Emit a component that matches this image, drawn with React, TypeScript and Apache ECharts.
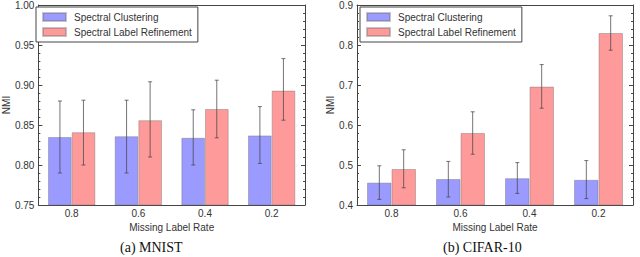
import React, { useEffect, useRef } from "react";
import * as echarts from "echarts";

const CATEGORIES = ["0.8", "0.6", "0.4", "0.2"];
const SERIES_NAMES = ["Spectral Clustering", "Spectral Label Refinement"];

const MNIST_SC = [0.835, 0.836, 0.834, 0.837];
const MNIST_SC_LO = [0.79, 0.79, 0.8, 0.802];
const MNIST_SC_HI = [0.88, 0.881, 0.869, 0.873];
const MNIST_SLR = [0.841, 0.856, 0.87, 0.893];
const MNIST_SLR_LO = [0.8, 0.81, 0.834, 0.856];
const MNIST_SLR_HI = [0.881, 0.904, 0.906, 0.933];

const CIFAR_SC = [0.456, 0.465, 0.467, 0.463];
const CIFAR_SC_LO = [0.414, 0.42, 0.429, 0.416];
const CIFAR_SC_HI = [0.498, 0.509, 0.506, 0.511];
const CIFAR_SLR = [0.49, 0.58, 0.696, 0.83];
const CIFAR_SLR_LO = [0.443, 0.527, 0.642, 0.787];
const CIFAR_SLR_HI = [0.538, 0.633, 0.751, 0.873];

const CAPTIONS = ["(a) MNIST", "(b) CIFAR-10"];

const BLUE = "#9a9aff";
const RED = "#ff9a9a";
const AXIS = "#444";
const FONT = "Liberation Sans";

function errData(lo: number[], hi: number[]) {
  return lo.map((l, i) => [i, l, hi[i]]);
}

function errSeries(lo: number[], hi: number[], idx: number, sign: number) {
  return {
    type: "custom",
    xAxisIndex: idx * 2,
    yAxisIndex: idx * 2,
    z: 5,
    silent: true,
    encode: { x: 0, y: [1, 2] },
    data: errData(lo, hi),
    renderItem: (params: any, api: any) => {
      const cat = api.value(0);
      const p1 = api.coord([cat, api.value(1)]);
      const p2 = api.coord([cat, api.value(2)]);
      const band = api.size([1, 0])[0];
      const x = p1[0] + sign * band * 0.1765;
      const cap = 2;
      const style = { stroke: "rgba(70,70,70,0.75)", lineWidth: 1 };
      return {
        type: "group",
        children: [
          { type: "line", shape: { x1: x, y1: p1[1], x2: x, y2: p2[1] }, style },
          { type: "line", shape: { x1: x - cap, y1: p1[1], x2: x + cap, y2: p1[1] }, style },
          { type: "line", shape: { x1: x - cap, y1: p2[1], x2: x + cap, y2: p2[1] }, style },
        ],
      };
    },
  };
}

function barSeries(name: string, data: number[], idx: number, color: string) {
  return {
    name,
    type: "bar",
    xAxisIndex: idx * 2,
    yAxisIndex: idx * 2,
    data,
    barGap: "0%",
    barCategoryGap: "29%",
    itemStyle: { color, borderColor: "rgba(110,110,110,0.4)", borderWidth: 1 },
  };
}

export default function App() {
  const ref = useRef<HTMLDivElement>(null);
  useEffect(() => {
    if (!ref.current) return;
    const chart = echarts.init(ref.current, undefined, { renderer: "svg" });

    const grids = [
      { left: 33, top: 3, width: 272, height: 202 },
      { left: 357, top: 3, width: 276, height: 202 },
    ];
    const yRanges = [
      { min: 0.75, max: 1.0, interval: 0.05, fmt: (v: number) => v.toFixed(2), nameGap: 26 },
      { min: 0.4, max: 0.9, interval: 0.1, fmt: (v: number) => v.toFixed(1), nameGap: 22 },
    ];

    const xAxis: any[] = [];
    const yAxis: any[] = [];
    [0, 1].forEach((g) => {
      xAxis.push({
        type: "category",
        gridIndex: g,
        data: CATEGORIES,
        position: "bottom",
        name: "Missing Label Rate",
        nameLocation: "middle",
        nameGap: 15,
        nameTextStyle: { fontFamily: FONT, fontSize: 10, color: "#333" },
        axisLine: { lineStyle: { color: AXIS } },
        axisTick: { inside: true, alignWithLabel: true, length: 4, lineStyle: { color: AXIS } },
        axisLabel: { fontFamily: FONT, fontSize: 10, color: "#333", margin: 3 },
        splitLine: { show: false },
      });
      xAxis.push({
        type: "category",
        gridIndex: g,
        data: CATEGORIES,
        position: "top",
        axisLine: { lineStyle: { color: AXIS } },
        axisTick: { inside: true, alignWithLabel: true, length: 4, lineStyle: { color: AXIS } },
        axisLabel: { show: false },
        splitLine: { show: false },
      });
      const r = yRanges[g];
      yAxis.push({
        type: "value",
        gridIndex: g,
        min: r.min,
        max: r.max,
        interval: r.interval,
        position: "left",
        name: "NMI",
        nameLocation: "middle",
        nameGap: r.nameGap,
        nameTextStyle: { fontFamily: FONT, fontSize: 10, color: "#333" },
        axisLine: { show: true, lineStyle: { color: AXIS } },
        axisTick: { show: true, inside: true, length: 4, lineStyle: { color: AXIS } },
        minorTick: { show: true, splitNumber: 5, length: 2, lineStyle: { color: AXIS } },
        axisLabel: { fontFamily: FONT, fontSize: 10, color: "#333", margin: 4, formatter: r.fmt },
        splitLine: { show: false },
      });
      yAxis.push({
        type: "value",
        gridIndex: g,
        min: r.min,
        max: r.max,
        interval: r.interval,
        position: "right",
        axisLine: { show: true, lineStyle: { color: AXIS } },
        axisTick: { show: true, inside: true, length: 4, lineStyle: { color: AXIS } },
        minorTick: { show: true, splitNumber: 5, length: 2, lineStyle: { color: AXIS } },
        axisLabel: { show: false },
        splitLine: { show: false },
      });
    });

    const legendBase = {
      orient: "vertical",
      top: 7,
      icon: "rect",
      itemWidth: 23,
      itemHeight: 8,
      itemGap: 3,
      padding: [4, 6, 4, 6],
      borderColor: "#444",
      borderWidth: 1,
      backgroundColor: "#fff",
      data: SERIES_NAMES,
      selectedMode: false,
      textStyle: { fontFamily: FONT, fontSize: 10, color: "#333", lineHeight: 12, padding: [0, 0, 0, 3] },
    };

    chart.setOption({
      animation: false,
      grid: grids,
      xAxis,
      yAxis,
      legend: [
        { ...legendBase, left: 36 },
        { ...legendBase, left: 360 },
      ],
      graphic: [
        { type: "text", left: 152 - 32, top: 240, style: { text: CAPTIONS[0], font: '14px "Liberation Serif"', fill: "#111" } },
        { type: "text", left: 483 - 40, top: 240, style: { text: CAPTIONS[1], font: '14px "Liberation Serif"', fill: "#111" } },
      ],
      series: [
        barSeries(SERIES_NAMES[0], MNIST_SC, 0, BLUE),
        barSeries(SERIES_NAMES[1], MNIST_SLR, 0, RED),
        barSeries(SERIES_NAMES[0], CIFAR_SC, 1, BLUE),
        barSeries(SERIES_NAMES[1], CIFAR_SLR, 1, RED),
        errSeries(MNIST_SC_LO, MNIST_SC_HI, 0, -1),
        errSeries(MNIST_SLR_LO, MNIST_SLR_HI, 0, 1),
        errSeries(CIFAR_SC_LO, CIFAR_SC_HI, 1, -1),
        errSeries(CIFAR_SLR_LO, CIFAR_SLR_HI, 1, 1),
      ],
    });
    return () => chart.dispose();
  }, []);
  return (
    <div
      ref={ref}
      style={{ position: "absolute", left: 0, top: 0, width: 640, height: 257, background: "#fff" }}
    />
  );
}
